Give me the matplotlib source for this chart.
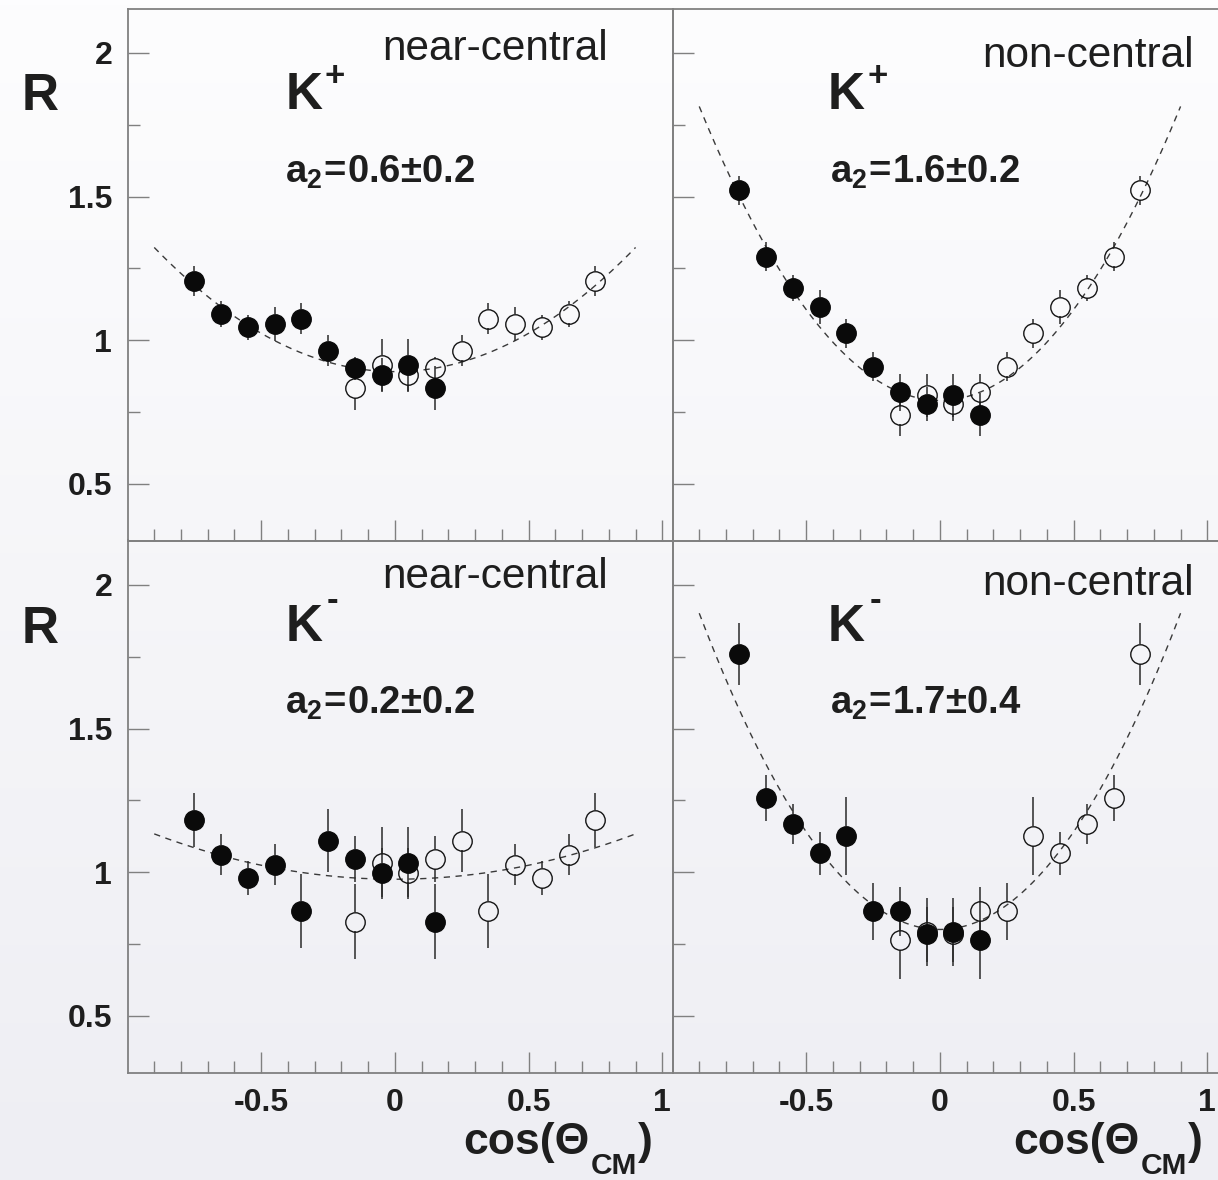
"""
Kaon emission ratio R vs cos(Theta_CM), K+ / K- for near-central and
non-central events, with the C*(1 + a2*cos^2) fits drawn dashed.
Filled points are measured bins, open points their mirror at -cos.
"""

import numpy as np
import matplotlib
matplotlib.use("Agg")
import matplotlib.pyplot as plt
from matplotlib.colors import LinearSegmentedColormap
from matplotlib.ticker import FixedLocator, FormatStrFormatter


# ======================
# DATA
# ======================

cos_bins = [-0.75, -0.65, -0.55, -0.45, -0.35, -0.25, -0.15, -0.05, 0.05, 0.15]

kp_central_r = [1.205, 1.092, 1.044, 1.056, 1.075, 0.963, 0.901, 0.879, 0.913, 0.833]
kp_central_err = [0.053, 0.045, 0.045, 0.06, 0.055, 0.055, 0.04, 0.06, 0.09, 0.075]

kp_noncentral_r = [1.522, 1.291, 1.180, 1.116, 1.023, 0.907, 0.818, 0.777, 0.808, 0.740]
kp_noncentral_err = [0.05, 0.05, 0.045, 0.06, 0.05, 0.05, 0.065, 0.06, 0.075, 0.075]

km_central_r = [1.182, 1.061, 0.980, 1.026, 0.864, 1.109, 1.045, 0.998, 1.032, 0.827]
km_central_err = [0.095, 0.07, 0.06, 0.07, 0.13, 0.11, 0.08, 0.085, 0.125, 0.13]

km_noncentral_r = [1.760, 1.257, 1.168, 1.065, 1.125, 0.863, 0.863, 0.783, 0.792, 0.763]
km_noncentral_err = [0.107, 0.08, 0.07, 0.075, 0.135, 0.10, 0.085, 0.097, 0.118, 0.135]

# fit: R = norm * (1 + a2 * cos^2), drawn over |cos| < fit_range
fit_norm = [0.89, 0.79, 0.975, 0.80]
fit_a2 = [0.6, 1.6, 0.2, 1.7]
fit_a2_err = [0.2, 0.2, 0.2, 0.4]
fit_range = 0.9

kaon_charges = ["+", "+", "-", "-"]
centrality_labels = ["near-central", "non-central", "near-central", "non-central"]

x_major = [-0.5, 0, 0.5, 1]
x_minor = [-0.9, -0.8, -0.7, -0.6, -0.4, -0.3, -0.2, -0.1,
           0.1, 0.2, 0.3, 0.4, 0.6, 0.7, 0.8, 0.9]
y_major = [0.5, 1, 1.5, 2]
y_minor = [0.75, 1.25, 1.75]


# ======================
# STYLE / LAYOUT
# ======================

FIG_W, FIG_H, DPI = 12.18, 11.80, 100
XLIM = (-1.0, 1.04)
YLIM = (0.3, 2.155)

FRAME = "#808080"
INK = "#1e1e1e"
MS = 14

# axes boxes in figure fractions: [left, bottom, width, height]
COL_LEFT = [127.5 / 1218, 672.5 / 1218]
ROW_BOTTOM = [(1180 - 541) / 1180, (1180 - 1073) / 1180]
AX_W = 545.5 / 1218
AX_H = 532.5 / 1180

plt.rcParams["font.family"] = ["Liberation Sans", "DejaVu Sans"]
plt.rcParams["mathtext.fontset"] = "custom"
plt.rcParams["mathtext.rm"] = "Liberation Sans"
plt.rcParams["mathtext.it"] = "Liberation Sans:italic"
plt.rcParams["mathtext.bf"] = "Liberation Sans:bold"


def draw_panel(ax, r, err, norm, a2, a2_err, charge, centrality, row, col):
    x = np.array(cos_bins)
    r = np.array(r)
    err = np.array(err)

    ax.set_xlim(*XLIM)
    ax.set_ylim(*YLIM)
    ax.set_facecolor("none")

    # fit curve
    xf = np.linspace(-fit_range, fit_range, 300)
    ax.plot(xf, norm * (1 + a2 * xf ** 2), ls=(0, (4.5, 4)), lw=1.0,
            color="#3a3a3a", zorder=1)

    # error bars start at the marker edge (ROOT style)
    ax_h_px = ax.get_position().height * FIG_H * DPI
    gap = (MS / 2 * DPI / 72) * (YLIM[1] - YLIM[0]) / ax_h_px
    for xs in (-x, x):
        ax.vlines(xs, r + gap, np.maximum(r + err, r + gap), color="#2a2a2a",
                  lw=1.1, zorder=2)
        ax.vlines(xs, np.minimum(r - err, r - gap), r - gap, color="#2a2a2a",
                  lw=1.1, zorder=2)

    ax.plot(-x, r, "o", ms=MS, mfc="none", mec="#151515", mew=1.0, ls="none", zorder=3)
    ax.plot(x, r, "o", ms=MS, mfc="#0a0a0a", mec="#0a0a0a", mew=1.0, ls="none", zorder=4)

    # ticks
    ax.xaxis.set_major_locator(FixedLocator(x_major))
    ax.xaxis.set_minor_locator(FixedLocator(x_minor))
    ax.yaxis.set_major_locator(FixedLocator(y_major))
    ax.yaxis.set_minor_locator(FixedLocator(y_minor))
    ax.xaxis.set_major_formatter(FormatStrFormatter("%g"))
    ax.yaxis.set_major_formatter(FormatStrFormatter("%g"))
    ax.tick_params(which="major", direction="in", length=15, width=1.0, color=FRAME,
                   labelsize=23, labelcolor=INK, pad=11,
                   top=False, right=False,
                   labelbottom=(row == 1), labelleft=(col == 0))
    ax.tick_params(which="minor", direction="in", length=8.5, width=1.0, color=FRAME,
                   top=False, right=False)
    for lab in ax.get_xticklabels() + ax.get_yticklabels():
        lab.set_fontweight("bold")

    for spine in ax.spines.values():
        spine.set_color(FRAME)
        spine.set_linewidth(1.3)
    if col == 1:
        ax.spines["right"].set_visible(False)

    # centrality tag
    cent_x = 0.467 if col == 0 else 0.567
    cent_y = (0.904 if col == 0 else 0.891) if row == 0 else (0.910 if col == 0 else 0.897)
    ax.text(cent_x, cent_y, centrality, transform=ax.transAxes, fontsize=30.5,
            color=INK, ha="left", va="baseline")

    # particle label, superscript charge placed off the K's box
    k_x = 0.289 if col == 0 else 0.285
    k_text = ax.text(k_x, 0.8105, "K", transform=ax.transAxes, fontsize=37,
                     fontweight="bold", color=INK, ha="left", va="baseline")
    sup_dx, sup_dy = (2, -4) if charge == "+" else (3, 2)
    ax.annotate(charge, xy=(1, 1), xycoords=k_text, xytext=(sup_dx, sup_dy),
                textcoords="offset points", fontsize=25, fontweight="bold",
                color=INK, ha="left", va="center")

    a2_x = 0.289 if col == 0 else 0.288
    a2_y = 0.6735 if row == 0 else 0.675
    ax.text(a2_x, a2_y, r"$\mathbf{a_{2}\!=\!%.1f{\pm}%.1f}$" % (a2, a2_err),
            transform=ax.transAxes, fontsize=27.5, color=INK, ha="left", va="baseline")


def draw_xlabel(fig, host, x_left):
    """cos(Theta_CM) built from pieces so the CM subscript sits low like ROOT's."""
    main = fig.text(x_left, (1180 - 1154) / 1180, "cos(\u0398", fontsize=32,
                    fontweight="bold", color=INK, ha="left", va="baseline")
    sub = host.annotate("CM", xy=(1, 0), xycoords=main, xytext=(1, 8),
                        textcoords="offset points", fontsize=21.5,
                        fontweight="bold", color=INK, ha="left", va="top",
                        annotation_clip=False)
    host.annotate(")", xy=(1, 0), xycoords=(sub, main), xytext=(0.5, 0),
                  textcoords="offset points", fontsize=32, fontweight="bold",
                  color=INK, ha="left", va="bottom", annotation_clip=False)


def main():
    fig = plt.figure(figsize=(FIG_W, FIG_H), dpi=DPI)

    # soft vertical gradient behind everything
    bg = fig.add_axes([0, 0, 1, 1], zorder=-10)
    cmap = LinearSegmentedColormap.from_list("bg", ["#eeeef3", "#fdfdfe"])
    bg.imshow(np.linspace(0, 1, 256).reshape(-1, 1), aspect="auto", cmap=cmap,
              origin="lower", extent=[0, 1, 0, 1])
    bg.axis("off")

    panels = [
        (kp_central_r, kp_central_err),
        (kp_noncentral_r, kp_noncentral_err),
        (km_central_r, km_central_err),
        (km_noncentral_r, km_noncentral_err),
    ]

    for i, (r, err) in enumerate(panels):
        row, col = divmod(i, 2)
        ax = fig.add_axes([COL_LEFT[col], ROW_BOTTOM[row], AX_W, AX_H])
        draw_panel(ax, r, err, fit_norm[i], fit_a2[i], fit_a2_err[i],
                   kaon_charges[i], centrality_labels[i], row, col)

    # y label on each row
    for y in (0.9068, 0.4555):
        fig.text(0.018, y, "R", fontsize=37, fontweight="bold", color=INK,
                 ha="left", va="baseline")

    # x label under each column
    for x in (463 / 1218, 1013 / 1218):
        draw_xlabel(fig, bg, x)

    fig.savefig("out.png", dpi=DPI)


if __name__ == "__main__":
    main()
